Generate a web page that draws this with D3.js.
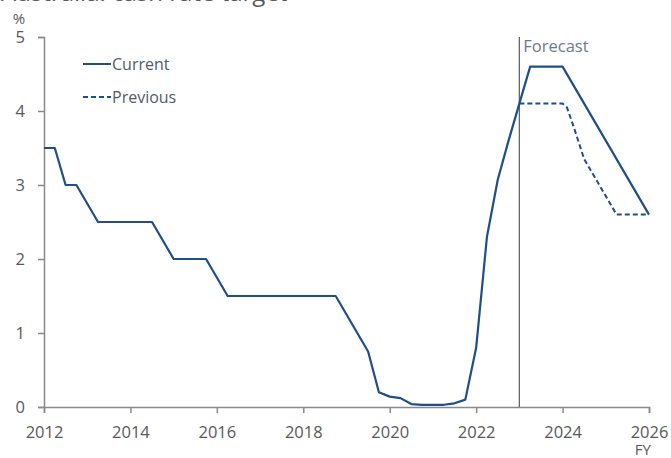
<!DOCTYPE html>
<html>
<head>
<meta charset="utf-8">
<script src="https://cdn.jsdelivr.net/npm/d3@7"></script>
<style>
  body { margin: 0; background: #fff; }
  svg { display: block; font-family: "Open Sans", sans-serif; }
</style>
</head>
<body>
<div id="chart"></div>
<script>
// Données (trimestres, FY)
const currentYears = [
  2012, 2012.25, 2012.5, 2012.75, 2013, 2013.25, 2013.5, 2013.75, 2014, 2014.25, 2014.5,
  2014.75, 2015, 2015.25, 2015.5, 2015.75, 2016, 2016.25, 2016.5, 2016.75, 2017, 2017.25,
  2017.5, 2017.75, 2018, 2018.25, 2018.5, 2018.75, 2019, 2019.25, 2019.5, 2019.75, 2020,
  2020.25, 2020.5, 2020.75, 2021, 2021.25, 2021.5, 2021.75, 2022, 2022.25, 2022.5, 2022.75,
  2023, 2023.25, 2023.5, 2023.75, 2024, 2024.25, 2024.5, 2024.75, 2025, 2025.25, 2025.5,
  2025.75, 2026
];
const currentValues = [
  3.5, 3.5, 3.0, 3.0, 2.75, 2.5, 2.5, 2.5, 2.5, 2.5, 2.5,
  2.25, 2.0, 2.0, 2.0, 2.0, 1.75, 1.5, 1.5, 1.5, 1.5, 1.5,
  1.5, 1.5, 1.5, 1.5, 1.5, 1.5, 1.25, 1.0, 0.75, 0.2, 0.14,
  0.12, 0.04, 0.03, 0.03, 0.03, 0.05, 0.1, 0.8, 2.3, 3.07, 3.6,
  4.1, 4.6, 4.6, 4.6, 4.6, 4.35, 4.1, 3.85, 3.6, 3.35, 3.1,
  2.85, 2.6
];
const previousYears = [2023, 2023.25, 2023.5, 2023.75, 2024, 2024.1, 2024.25, 2024.5, 2024.75, 2025, 2025.25, 2025.5, 2025.75, 2026];
const previousValues = [4.1, 4.1, 4.1, 4.1, 4.1, 4.05, 3.8, 3.35, 3.1, 2.85, 2.6, 2.6, 2.6, 2.6];
const xTicks = [2012, 2014, 2016, 2018, 2020, 2022, 2024, 2026];
const yTicks = [0, 1, 2, 3, 4, 5];
const forecastStart = 2023;
const seriesNames = ['Current', 'Previous'];

const width = 671;
const height = 458;
const margin = { top: 37, right: 22, bottom: 51, left: 44 };
const lineColor = '#1f4e89';
const axisColor = '#8a8a8a';
const textColor = '#595959';

const svg = d3.select('#chart')
  .append('svg')
  .attr('width', width)
  .attr('height', height);

const xScale = d3.scaleLinear()
  .domain([2012, 2026])
  .range([margin.left, width - margin.right]);

const yScale = d3.scaleLinear()
  .domain([0, 5])
  .range([height - margin.bottom, margin.top]);

// Titre (coupé en haut)
svg.append('text')
  .attr('x', 1)
  .attr('y', 1)
  .attr('font-size', 24)
  .attr('fill', textColor)
  .text('Australia: cash rate target');

// Axe Y
const yAxis = svg.append('g')
  .attr('transform', `translate(${margin.left},0)`)
  .call(d3.axisLeft(yScale).tickValues(yTicks).tickSize(6).tickPadding(13).tickFormat(d3.format('d')));
yAxis.select('.domain').attr('stroke', axisColor).attr('stroke-width', 1.5);
yAxis.selectAll('.tick line').attr('stroke', axisColor).attr('stroke-width', 1.5);
yAxis.selectAll('text').attr('font-size', 16.5).attr('fill', textColor)
  .attr('font-family', '"Open Sans", sans-serif');

svg.append('text')
  .attr('x', 19)
  .attr('y', 24)
  .attr('text-anchor', 'middle')
  .attr('font-size', 15)
  .attr('fill', textColor)
  .text('%');

// Axe X
const xAxis = svg.append('g')
  .attr('transform', `translate(0,${height - margin.bottom})`)
  .call(d3.axisBottom(xScale).tickValues(xTicks).tickSize(6).tickPadding(13).tickFormat(d3.format('d')));
xAxis.select('.domain').attr('stroke', axisColor).attr('stroke-width', 1.5);
xAxis.selectAll('.tick line').attr('stroke', axisColor).attr('stroke-width', 1.5);
xAxis.selectAll('text').attr('font-size', 16.5).attr('fill', textColor)
  .attr('font-family', '"Open Sans", sans-serif');

svg.append('text')
  .attr('x', width - 20)
  .attr('y', height - 3)
  .attr('text-anchor', 'end')
  .attr('font-size', 15)
  .attr('fill', textColor)
  .text('FY');

// Ligne de prévision
svg.append('line')
  .attr('x1', xScale(forecastStart))
  .attr('x2', xScale(forecastStart))
  .attr('y1', yScale(5))
  .attr('y2', yScale(0))
  .attr('stroke', '#666')
  .attr('stroke-width', 1.3);

svg.append('text')
  .attr('x', xScale(forecastStart) + 4)
  .attr('y', yScale(5) + 15)
  .attr('font-size', 16.5)
  .attr('fill', '#6b7a8f')
  .text('Forecast');

// Séries
const line = d3.line()
  .x(d => xScale(d[0]))
  .y(d => yScale(d[1]));

svg.append('path')
  .datum(previousYears.map((y, i) => [y, previousValues[i]]))
  .attr('fill', 'none')
  .attr('stroke', lineColor)
  .attr('stroke-width', 2)
  .attr('stroke-dasharray', '5,3')
  .attr('d', line);

svg.append('path')
  .datum(currentYears.map((y, i) => [y, currentValues[i]]))
  .attr('fill', 'none')
  .attr('stroke', lineColor)
  .attr('stroke-width', 2.2)
  .attr('stroke-linejoin', 'round')
  .attr('d', line);

// Légende
const legend = svg.append('g').attr('transform', 'translate(83,64)');
seriesNames.forEach((name, i) => {
  const g = legend.append('g').attr('transform', `translate(0,${i * 33})`);
  g.append('line')
    .attr('x1', 0).attr('x2', 28)
    .attr('y1', 0).attr('y2', 0)
    .attr('stroke', lineColor)
    .attr('stroke-width', 2)
    .attr('stroke-dasharray', i === 1 ? '5,3' : null);
  g.append('text')
    .attr('x', 29)
    .attr('y', 6)
    .attr('font-size', 16)
    .attr('fill', '#4e5b6e')
    .text(name);
});
</script>
</body>
</html>
